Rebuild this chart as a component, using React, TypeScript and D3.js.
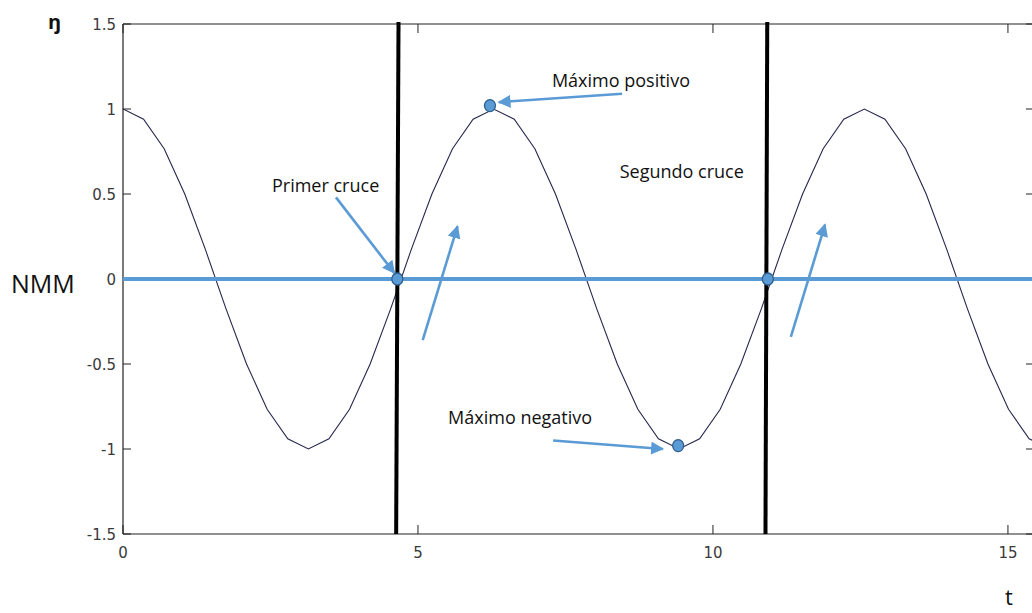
import React from "react";
import * as d3 from "d3";

// Sampled wave elevation (t step = π/9)
const tValues = [
  0, 0.349, 0.698, 1.047, 1.396, 1.745, 2.094, 2.443, 2.793, 3.142,
  3.491, 3.84, 4.189, 4.538, 4.887, 5.236, 5.585, 5.934, 6.283, 6.632,
  6.981, 7.33, 7.679, 8.029, 8.378, 8.727, 9.076, 9.425, 9.774, 10.123,
  10.472, 10.821, 11.17, 11.519, 11.868, 12.217, 12.566, 12.915, 13.265, 13.614,
  13.963, 14.312, 14.661, 15.01, 15.359, 15.708,
];
const etaValues = [
  1, 0.94, 0.766, 0.5, 0.174, -0.174, -0.5, -0.766, -0.94, -1,
  -0.94, -0.766, -0.5, -0.174, 0.174, 0.5, 0.766, 0.94, 1, 0.94,
  0.766, 0.5, 0.174, -0.174, -0.5, -0.766, -0.94, -1, -0.94, -0.766,
  -0.5, -0.174, 0.174, 0.5, 0.766, 0.94, 1, 0.94, 0.766, 0.5,
  0.174, -0.174, -0.5, -0.766, -0.94, -1,
];

const xTicks = [0, 5, 10, 15];
const yTicks = [-1.5, -1, -0.5, 0, 0.5, 1, 1.5];
const yTickLabels = ["-1.5", "-1", "-0.5", "0", "0.5", "1", "1.5"];

// Vertical crossing markers: [t at top, t at bottom]
const crossingLines = [
  [4.67, 4.63],
  [10.92, 10.89],
];

// Highlighted points: [t, eta]
const markedPoints = [
  [4.65, 0],
  [10.93, 0],
  [6.22, 1.02],
  [9.41, -0.98],
];

// Arrows: [t0, eta0, t1, eta1]
const arrows = [
  [3.61, 0.48, 4.6, 0.035],
  [5.08, -0.36, 5.67, 0.31],
  [8.46, 1.09, 6.37, 1.04],
  [7.29, -0.95, 9.15, -1.0],
  [11.32, -0.34, 11.9, 0.32],
];

// Annotation labels: [text, t, eta] (baseline position)
const notes: [string, number, number][] = [
  ["Primer cruce", 2.525, 0.51],
  ["Máximo positivo", 7.27, 1.13],
  ["Segundo cruce", 8.42, 0.594],
  ["Máximo negativo", 5.51, -0.853],
];

const W = 1032;
const H = 613;

export default function App() {
  const x = d3.scaleLinear().domain([0, 15.45]).range([123, 1034.5]);
  const y = d3.scaleLinear().domain([-1.5, 1.5]).range([534, 24]);

  const line = d3
    .line<number>()
    .x((_, i) => x(tValues[i]))
    .y((d) => y(d));

  const blue = "#5b9bd5";
  const tickFont = "'DejaVu Sans', Arial, sans-serif";
  const noteFont = "'Open Sans', 'Noto Sans', sans-serif";

  return (
    <svg
      width={W}
      height={H}
      style={{ position: "absolute", left: 0, top: 0, background: "#fff" }}
    >
      <defs>
        <marker
          id="head"
          viewBox="0 0 10 10"
          refX="9"
          refY="5"
          markerWidth="5.2"
          markerHeight="5"
          orient="auto"
          markerUnits="strokeWidth"
        >
          <path d="M0,0 L10,5 L0,10 z" fill={blue} />
        </marker>
        <clipPath id="plot">
          <rect x={123} y={24} width={W - 123} height={510} />
        </clipPath>
      </defs>

      {/* frame */}
      <line x1={123} x2={1034.5} y1={y(1.5)} y2={y(1.5)} stroke="#222" strokeWidth={1.2} />
      <line x1={123} x2={1034.5} y1={y(-1.5)} y2={y(-1.5)} stroke="#222" strokeWidth={1.2} />
      <line x1={123} x2={123} y1={y(1.5)} y2={y(-1.5)} stroke="#222" strokeWidth={1.2} />

      {/* x ticks (bottom and top, pointing inward) */}
      {xTicks.map((t) => (
        <g key={"xt" + t}>
          <line x1={x(t)} x2={x(t)} y1={y(-1.5)} y2={y(-1.5) - 9} stroke="#222" strokeWidth={1} />
          <line x1={x(t)} x2={x(t)} y1={y(1.5)} y2={y(1.5) + 9} stroke="#222" strokeWidth={1} />
          <text
            x={x(t)}
            y={y(-1.5) + 24}
            textAnchor="middle"
            fontFamily={tickFont}
            fontSize={15}
            fill="#3a3a3a"
          >
            {t}
          </text>
        </g>
      ))}

      {/* y ticks (left and right, pointing inward) */}
      {yTicks.map((v, i) => (
        <g key={"yt" + v}>
          <line x1={123} x2={131} y1={y(v)} y2={y(v)} stroke="#222" strokeWidth={1} />
          <line x1={1026} x2={1034} y1={y(v)} y2={y(v)} stroke="#222" strokeWidth={1} />
          <text
            x={116}
            y={y(v) + 5.5}
            textAnchor="end"
            fontFamily={tickFont}
            fontSize={15}
            fill="#3a3a3a"
          >
            {yTickLabels[i]}
          </text>
        </g>
      ))}

      {/* wave */}
      <path
        d={line(etaValues) ?? ""}
        fill="none"
        stroke="#26264f"
        strokeWidth={1.1}
        clipPath="url(#plot)"
      />

      {/* mean water level */}
      <line x1={123} x2={W} y1={y(0)} y2={y(0)} stroke={blue} strokeWidth={4} />

      {/* crossing lines */}
      {crossingLines.map(([a, b], i) => (
        <line
          key={"cl" + i}
          x1={x(a)}
          x2={x(b)}
          y1={y(1.5) - 2}
          y2={y(-1.5)}
          stroke="#000"
          strokeWidth={4}
        />
      ))}

      {/* arrows */}
      {arrows.map(([t0, e0, t1, e1], i) => (
        <line
          key={"ar" + i}
          x1={x(t0)}
          y1={y(e0)}
          x2={x(t1)}
          y2={y(e1)}
          stroke={blue}
          strokeWidth={2.6}
          markerEnd="url(#head)"
        />
      ))}

      {/* marked points */}
      {markedPoints.map(([t, e], i) => (
        <ellipse
          key={"pt" + i}
          cx={x(t)}
          cy={y(e)}
          rx={5.5}
          ry={6}
          fill={blue}
          stroke="#2f5f8f"
          strokeWidth={1.3}
        />
      ))}

      {/* annotations */}
      {notes.map(([txt, t, e]) => (
        <text
          key={txt}
          x={x(t)}
          y={y(e)}
          fontFamily={noteFont}
          fontSize={18}
          fill="#111"
        >
          {txt}
        </text>
      ))}

      {/* axis names */}
      <text x={48} y={29} fontFamily={noteFont} fontSize={20} fontWeight="bold" fill="#111">
        ŋ
      </text>
      <text x={11} y={293} fontFamily={noteFont} fontSize={25} fill="#111">
        NMM
      </text>
      <text x={1005} y={605} fontFamily={noteFont} fontSize={22} fill="#111">
        t
      </text>
    </svg>
  );
}
